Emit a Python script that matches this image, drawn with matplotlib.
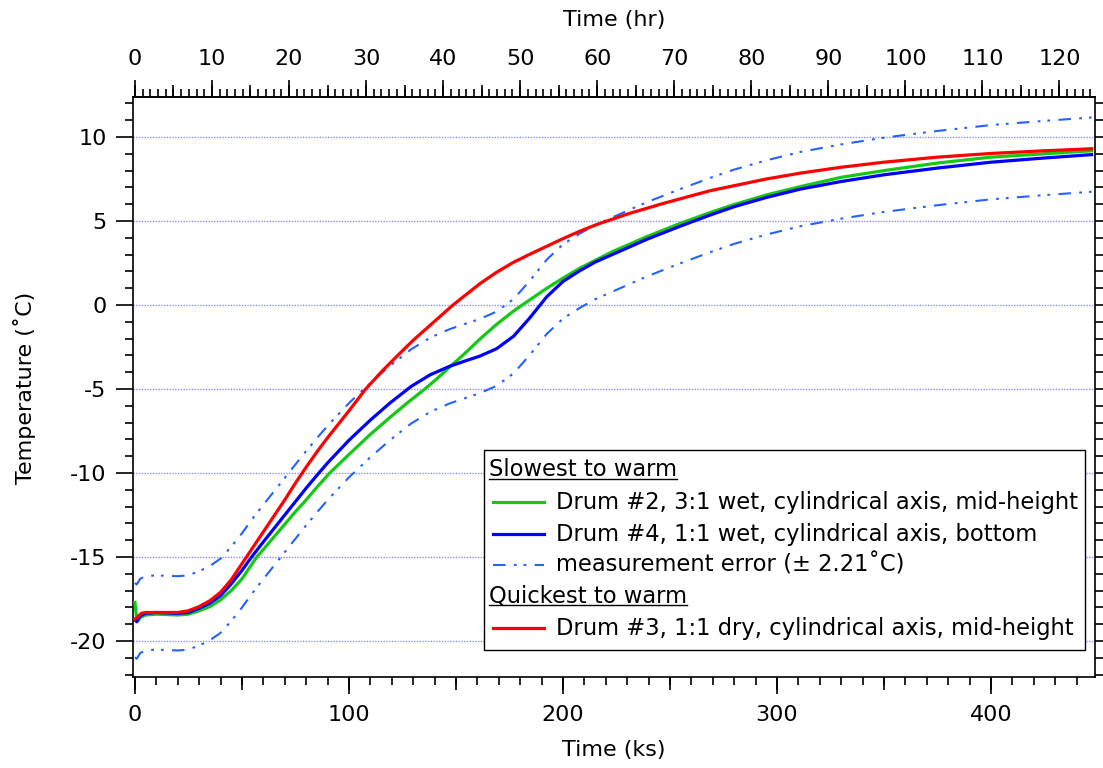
import numpy as np
import matplotlib
matplotlib.use("Agg")
import matplotlib.pyplot as plt
from matplotlib.ticker import MultipleLocator, FixedLocator, NullFormatter
from matplotlib.lines import Line2D
from matplotlib.patches import Rectangle

plt.rcParams['font.family'] = ['DejaVu Sans']
plt.rcParams['font.size'] = 16
plt.rcParams['lines.scale_dashes'] = False
plt.rcParams['axes.unicode_minus'] = False

# time in ks, temperature in deg C
t_red = [0, 1, 3, 5, 10, 15, 20, 25, 30, 35, 40, 45, 50, 55, 60, 65, 70, 75, 80,
         85, 90, 100, 107.5, 115, 122, 130, 138, 148.6, 161, 169, 177, 185,
         192.5, 200, 208, 216, 231, 247, 268.7, 295, 311, 330, 350, 375, 400,
         425, 447]
temp_red = [-18.7, -18.6, -18.35, -18.3, -18.3, -18.3, -18.3, -18.2, -17.95, -17.6,
            -17.1, -16.35, -15.4, -14.45, -13.5, -12.55, -11.6, -10.6, -9.65,
            -8.75, -7.9, -6.3, -5.05, -4.0, -3.1, -2.1, -1.2, 0.0, 1.25, 1.95,
            2.55, 3.05, 3.5, 3.95, 4.4, 4.8, 5.45, 6.05, 6.8, 7.5, 7.85, 8.2,
            8.5, 8.8, 9.02, 9.18, 9.3]

t_green = [0, 0.5, 1, 2.5, 5, 10, 20, 25, 30, 35, 40, 45, 50, 56.9, 60, 65, 70,
           75, 80, 85, 91, 100, 110, 120, 128, 135.5, 141, 147, 154, 161, 169,
           177, 185, 192.5, 200, 208, 223, 239, 255, 268.7, 280, 295, 311, 330,
           350, 375, 400, 425, 447]
temp_green = [-17.7, -18.3, -18.85, -18.6, -18.45, -18.4, -18.45, -18.4, -18.2,
              -17.95, -17.55, -17.0, -16.3, -15.0, -14.55, -13.8, -13.05, -12.3,
              -11.6, -10.85, -10.0, -8.9, -7.7, -6.6, -5.75, -5.0, -4.4, -3.7,
              -2.9, -2.05, -1.15, -0.35, 0.35, 1.0, 1.6, 2.2, 3.17, 4.06, 4.87,
              5.5, 5.98, 6.55, 7.05, 7.6, 8.0, 8.45, 8.8, 9.0, 9.18]

t_blue = [0, 0.8, 2.5, 5, 10, 20, 25, 30, 35, 40, 45, 50, 54.5, 60, 65, 70, 75,
          80, 85.6, 90, 100, 110, 119, 129, 138, 147, 155, 161, 169, 177, 184.6,
          192.5, 200, 208, 215, 223, 239, 255, 268.7, 280, 295, 311, 330, 350,
          375, 400, 425, 447]
temp_blue = [-18.75, -18.85, -18.5, -18.35, -18.3, -18.35, -18.3, -18.05, -17.75,
             -17.3, -16.6, -15.8, -15.0, -14.1, -13.3, -12.5, -11.7, -10.9, -10.05,
             -9.4, -8.05, -6.85, -5.85, -4.85, -4.15, -3.65, -3.3, -3.05, -2.6,
             -1.85, -0.75, 0.5, 1.4, 2.05, 2.55, 3.0, 3.9, 4.7, 5.35, 5.85, 6.4,
             6.9, 7.35, 7.75, 8.15, 8.5, 8.75, 8.95]

meas_err = 2.21  # deg C, band drawn around drum #4

labels = ['Drum #2, 3:1 wet, cylindrical axis, mid-height',
          'Drum #4, 1:1 wet, cylindrical axis, bottom',
          'measurement error (\u00b1 2.21\u02daC)',
          'Drum #3, 1:1 dry, cylindrical axis, mid-height']
headers = ['Slowest to warm', 'Quickest to warm']

c_green = '#14c814'
c_blue = '#0000ff'
c_red = '#ff0000'
c_err = '#2462ff'
err_dash = (0, (9, 6, 2, 5, 2, 6))

W, H = 1103, 768
fig = plt.figure(figsize=(W / 100, H / 100), dpi=100)
L, R, T, B = 133, 1095, 97, 677
ax = fig.add_axes([L / W, 1 - B / H, (R - L) / W, (B - T) / H])


def ax_x(px):
    return (px - L) / (R - L)


def ax_y(py):
    return (B - py) / (B - T)


blue = np.array(temp_blue)
ax.plot(t_blue, blue + meas_err, color=c_err, lw=1.5, linestyle=err_dash, zorder=3)
ax.plot(t_blue, blue - meas_err, color=c_err, lw=1.5, linestyle=err_dash, zorder=3)
ax.plot(t_green, temp_green, color=c_green, lw=2.3, zorder=4)
ax.plot(t_blue, temp_blue, color=c_blue, lw=2.3, zorder=5)
ax.plot(t_red, temp_red, color=c_red, lw=2.3, zorder=6)

ax.set_xlim(-0.9, 448.6)
ax.set_ylim(-22.14, 12.38)

for y in range(-20, 11, 5):
    ax.axhline(y, color='#8c8cff', lw=1.0, linestyle=(0, (1, 1)), zorder=1)

for s in ax.spines.values():
    s.set_linewidth(1.2)

ax.xaxis.set_major_locator(MultipleLocator(100))
ax.xaxis.set_minor_locator(MultipleLocator(10))
ax.yaxis.set_major_locator(MultipleLocator(5))
ax.yaxis.set_minor_locator(MultipleLocator(1))
ax.tick_params(which='both', direction='out', width=1.2, colors='black')
ax.tick_params(axis='x', which='major', length=12, pad=8)
ax.tick_params(axis='x', which='minor', length=6)
ax.tick_params(axis='y', which='major', length=12, pad=7, right=True)
ax.tick_params(axis='y', which='minor', length=6, right=True)

# medium ticks every 50 ks
mid_bot = ax.secondary_xaxis('bottom')
mid_bot.xaxis.set_major_locator(MultipleLocator(50))
mid_bot.xaxis.set_major_formatter(NullFormatter())
mid_bot.tick_params(length=9, width=1.2)
mid_bot.spines['bottom'].set_visible(False)

# top axis in hours
ks2hr = (lambda x: x / 3.6, lambda x: x * 3.6)
top = ax.secondary_xaxis('top', functions=ks2hr)
top.xaxis.set_major_locator(FixedLocator(list(range(0, 121, 10))))
top.xaxis.set_minor_locator(FixedLocator(list(range(0, 125))))
top.tick_params(which='major', length=12, width=1.2, pad=8)
top.tick_params(which='minor', length=6, width=1.2)
top.spines['top'].set_linewidth(1.2)
top.set_xlabel('Time (hr)', labelpad=17)

mid_top = ax.secondary_xaxis('top', functions=ks2hr)
mid_top.xaxis.set_major_locator(FixedLocator(list(range(0, 121, 5))))
mid_top.xaxis.set_major_formatter(NullFormatter())
mid_top.tick_params(length=9, width=1.2)
mid_top.spines['top'].set_visible(False)

ax.set_xlabel('Time (ks)')
ax.set_ylabel('Temperature (\u02daC)')
ax.xaxis.label.set_va('center')
ax.xaxis.set_label_coords(0.5, ax_y(750))
ax.yaxis.label.set_va('center')
ax.yaxis.set_label_coords(ax_x(25), ax_y(388))

# legend box drawn by hand
ax.add_patch(Rectangle((ax_x(484), ax_y(650)), ax_x(1085) - ax_x(484),
                       ax_y(450) - ax_y(650), transform=ax.transAxes,
                       facecolor='white', edgecolor='black', lw=1.0, zorder=10))
rows = [470, 502, 534, 565, 596, 628]
entries = [(headers[0], None, None),
           (labels[0], c_green, '-'),
           (labels[1], c_blue, '-'),
           (labels[2], c_err, err_dash),
           (headers[1], None, None),
           (labels[3], c_red, '-')]
head_texts = []
for py, (txt, col, ls) in zip(rows, entries):
    if col is None:
        tx = ax.text(ax_x(489), ax_y(py), txt, transform=ax.transAxes,
                     va='center', ha='left', zorder=11, fontsize=16.3)
        head_texts.append(tx)
    else:
        lw = 1.5 if ls is err_dash else 2.3
        ax.add_line(Line2D([ax_x(493), ax_x(544)], [ax_y(py), ax_y(py)],
                           transform=ax.transAxes, color=col, lw=lw,
                           linestyle=ls, zorder=11))
        ax.text(ax_x(556), ax_y(py), txt, transform=ax.transAxes,
                va='center', ha='left', zorder=11, fontsize=16.3)

fig.canvas.draw()
inv = ax.transAxes.inverted()
for tx in head_texts:
    bb = tx.get_window_extent()
    x0, y0 = inv.transform((bb.x0, bb.y0 + 3))
    x1, _ = inv.transform((bb.x1, bb.y0 + 3))
    ax.add_line(Line2D([x0, x1], [y0, y0], transform=ax.transAxes,
                       color='black', lw=1.0, zorder=11))

fig.savefig('out.png', dpi=100)
